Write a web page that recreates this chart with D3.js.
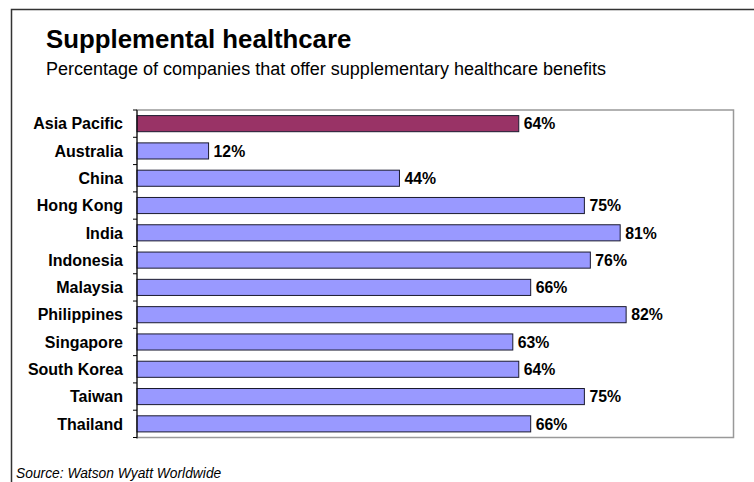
<!DOCTYPE html>
<html>
<head>
<meta charset="utf-8">
<script src="https://cdn.jsdelivr.net/npm/d3@7"></script>
<style>
  html, body { margin: 0; padding: 0; background: #fff; }
  svg { display: block; font-family: Arial, "Liberation Sans", sans-serif; }
</style>
</head>
<body>
<svg id="chart" width="754" height="482"></svg>
<script>
// Share of companies offering supplementary healthcare, by market
const categories = ["Asia Pacific", "Australia", "China", "Hong Kong", "India", "Indonesia",
  "Malaysia", "Philippines", "Singapore", "South Korea", "Taiwan", "Thailand"];
const values = [64, 12, 44, 75, 81, 76, 66, 82, 63, 64, 75, 66];
const highlight = ["Asia Pacific"];

const svg = d3.select("#chart");
const W = 754, H = 482;

// outer frame (top and left edges)
svg.append("path")
  .attr("d", `M11.5,${H} V9.5 H${W}`)
  .attr("fill", "none").attr("stroke", "#333").attr("stroke-width", 1.5);

svg.append("text").attr("x", 46).attr("y", 48)
  .attr("font-size", 25.8).attr("font-weight", "bold").attr("fill", "#000")
  .text("Supplemental healthcare");
svg.append("text").attr("x", 46).attr("y", 75)
  .attr("font-size", 18).attr("fill", "#000")
  .text("Percentage of companies that offer supplementary healthcare benefits");

const plot = { left: 137, right: 733.5, top: 110, bottom: 437.5 };

const x = d3.scaleLinear().domain([0, 100]).range([plot.left, plot.right]);
const y = d3.scaleBand().domain(categories).range([plot.top, plot.bottom])
  .paddingInner(0.41).paddingOuter(0.205);

// plot area border
svg.append("rect")
  .attr("x", plot.left).attr("y", plot.top)
  .attr("width", plot.right - plot.left).attr("height", plot.bottom - plot.top)
  .attr("fill", "none").attr("stroke", "#999").attr("stroke-width", 1.5);

// bars
svg.append("g").selectAll("rect").data(categories).join("rect")
  .attr("x", x(0))
  .attr("y", d => y(d))
  .attr("width", (d, i) => x(values[i]) - x(0))
  .attr("height", y.bandwidth())
  .attr("fill", d => highlight.includes(d) ? "#993366" : "#9999FF")
  .attr("stroke", "#1a1a2e").attr("stroke-width", 1);

// value labels
svg.append("g").selectAll("text").data(categories).join("text")
  .attr("x", (d, i) => x(values[i]) + 5)
  .attr("y", d => y(d) + y.bandwidth() / 2)
  .attr("dy", "0.36em")
  .attr("font-size", 15.8).attr("font-weight", "bold").attr("fill", "#000")
  .text((d, i) => values[i] + "%");

// category axis with ticks at band boundaries
const axisG = svg.append("g");
axisG.append("line")
  .attr("x1", plot.left).attr("x2", plot.left)
  .attr("y1", plot.top).attr("y2", plot.bottom + 1)
  .attr("stroke", "#000").attr("stroke-width", 1);
const step = y.step();
axisG.selectAll("line.tick").data(d3.range(categories.length + 1)).join("line")
  .attr("class", "tick")
  .attr("x1", plot.left - 4).attr("x2", plot.left)
  .attr("y1", i => plot.top + i * step).attr("y2", i => plot.top + i * step)
  .attr("stroke", "#000").attr("stroke-width", 1);
axisG.selectAll("text").data(categories).join("text")
  .attr("x", 123)
  .attr("y", d => y(d) + y.bandwidth() / 2)
  .attr("dy", "0.36em")
  .attr("text-anchor", "end")
  .attr("font-size", 16).attr("font-weight", "bold").attr("fill", "#000")
  .text(d => d);

svg.append("text").attr("x", 16).attr("y", 478)
  .attr("font-size", 13.8).attr("font-style", "italic").attr("fill", "#000")
  .text("Source: Watson Wyatt Worldwide");
</script>
</body>
</html>
